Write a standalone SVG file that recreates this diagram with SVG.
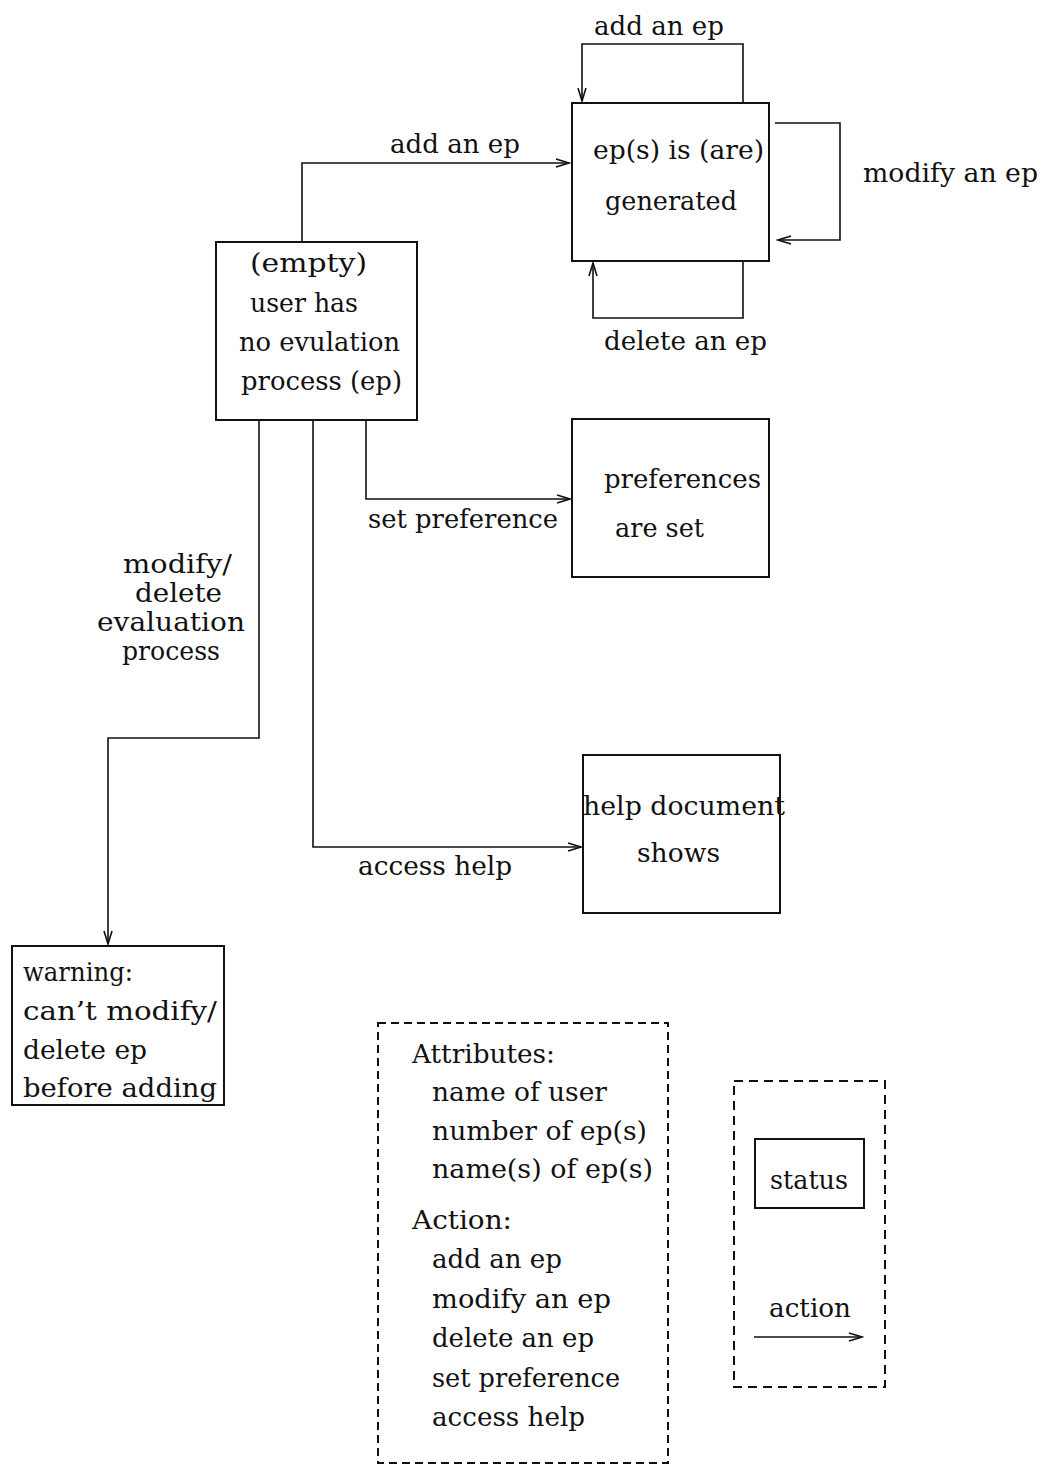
<svg xmlns="http://www.w3.org/2000/svg" width="1045" height="1467" viewBox="0 0 1045 1467">
  <style>
    text { font-family: "DejaVu Serif", "Liberation Serif", serif; font-size: 26px; fill: #111; }
    .box { fill: none; stroke: #111; stroke-width: 2; }
    .edge { fill: none; stroke: #111; stroke-width: 1.6; }
    .dash { fill: none; stroke: #111; stroke-width: 2; stroke-dasharray: 8 5; }
    .dash2 { fill: none; stroke: #111; stroke-width: 2; stroke-dasharray: 9 6; }
  </style>
  <defs>
    <marker id="arrow" markerUnits="userSpaceOnUse" markerWidth="16" markerHeight="12" refX="14" refY="6" orient="auto">
      <path d="M1,2 L14,6 L1,10" fill="none" stroke="#111" stroke-width="1.6"/>
    </marker>
  </defs>
  <rect width="1045" height="1467" fill="#fff"/>

  <!-- connectors -->
  <g id="connectors">
    <path class="edge" d="M302,242 V163 H569" marker-end="url(#arrow)"/>
    <path class="edge" d="M743,102 V44 H582 V101" marker-end="url(#arrow)"/>
    <path class="edge" d="M775,123 H840 V240 H778" marker-end="url(#arrow)"/>
    <path class="edge" d="M743,262 V318 H593 V263" marker-end="url(#arrow)"/>
    <path class="edge" d="M366,421 V499 H570" marker-end="url(#arrow)"/>
    <path class="edge" d="M313,421 V847 H581" marker-end="url(#arrow)"/>
    <path class="edge" d="M259,421 V738 H108 V944" marker-end="url(#arrow)"/>
  </g>

  <!-- connector labels -->
  <g id="labels">
    <text x="594" y="35" textLength="130" lengthAdjust="spacingAndGlyphs">add an ep</text>
    <text x="390" y="153" textLength="130" lengthAdjust="spacingAndGlyphs">add an ep</text>
    <text x="863" y="182" textLength="175" lengthAdjust="spacingAndGlyphs">modify an ep</text>
    <text x="604" y="350" textLength="163" lengthAdjust="spacingAndGlyphs">delete an ep</text>
    <text x="368" y="528" textLength="190" lengthAdjust="spacingAndGlyphs">set preference</text>
    <text x="358" y="875" textLength="154" lengthAdjust="spacingAndGlyphs">access help</text>
    <text x="123" y="573" textLength="109" lengthAdjust="spacingAndGlyphs">modify/</text>
    <text x="135" y="602" textLength="87" lengthAdjust="spacingAndGlyphs">delete</text>
    <text x="97" y="631" textLength="148" lengthAdjust="spacingAndGlyphs">evaluation</text>
    <text x="122" y="660" textLength="98" lengthAdjust="spacingAndGlyphs">process</text>
  </g>

  <!-- status nodes -->
  <g id="empty">
    <rect class="box" x="216" y="242" width="201" height="178"/>
    <text x="250" y="272" textLength="117" lengthAdjust="spacingAndGlyphs">(empty)</text>
    <text x="250" y="312" textLength="108" lengthAdjust="spacingAndGlyphs">user has</text>
    <text x="239" y="351" textLength="161" lengthAdjust="spacingAndGlyphs">no evulation</text>
    <text x="241" y="390" textLength="161" lengthAdjust="spacingAndGlyphs">process (ep)</text>
  </g>

  <g id="generated">
    <rect class="box" x="572" y="103" width="197" height="158"/>
    <text x="593" y="159" textLength="171" lengthAdjust="spacingAndGlyphs">ep(s) is (are)</text>
    <text x="605" y="210" textLength="132" lengthAdjust="spacingAndGlyphs">generated</text>
  </g>

  <g id="preferences">
    <rect class="box" x="572" y="419" width="197" height="158"/>
    <text x="604" y="488" textLength="157" lengthAdjust="spacingAndGlyphs">preferences</text>
    <text x="615" y="537" textLength="89" lengthAdjust="spacingAndGlyphs">are set</text>
  </g>

  <g id="help">
    <rect class="box" x="583" y="755" width="197" height="158"/>
    <text x="583" y="815" textLength="202" lengthAdjust="spacingAndGlyphs">help document</text>
    <text x="637" y="862" textLength="83" lengthAdjust="spacingAndGlyphs">shows</text>
  </g>

  <g id="warning">
    <rect class="box" x="12" y="946" width="212" height="159"/>
    <text x="23" y="981" textLength="110" lengthAdjust="spacingAndGlyphs">warning:</text>
    <text x="23" y="1020" textLength="194" lengthAdjust="spacingAndGlyphs">can’t modify/</text>
    <text x="23" y="1059" textLength="124" lengthAdjust="spacingAndGlyphs">delete ep</text>
    <text x="23" y="1097" textLength="194" lengthAdjust="spacingAndGlyphs">before adding</text>
  </g>

  <!-- attribute / action list -->
  <g id="attributes">
    <rect class="dash" x="378" y="1023" width="290" height="440"/>
    <text x="412" y="1063" textLength="143" lengthAdjust="spacingAndGlyphs">Attributes:</text>
    <text x="432" y="1101" textLength="175" lengthAdjust="spacingAndGlyphs">name of user</text>
    <text x="432" y="1140" textLength="215" lengthAdjust="spacingAndGlyphs">number of ep(s)</text>
    <text x="432" y="1178" textLength="221" lengthAdjust="spacingAndGlyphs">name(s) of ep(s)</text>
    <text x="412" y="1229" textLength="100" lengthAdjust="spacingAndGlyphs">Action:</text>
    <text x="432" y="1268" textLength="130" lengthAdjust="spacingAndGlyphs">add an ep</text>
    <text x="432" y="1308" textLength="179" lengthAdjust="spacingAndGlyphs">modify an ep</text>
    <text x="432" y="1347" textLength="162" lengthAdjust="spacingAndGlyphs">delete an ep</text>
    <text x="432" y="1387" textLength="188" lengthAdjust="spacingAndGlyphs">set preference</text>
    <text x="432" y="1426" textLength="153" lengthAdjust="spacingAndGlyphs">access help</text>
  </g>

  <!-- key -->
  <g id="key">
    <rect class="dash2" x="734" y="1081" width="151" height="306"/>
    <rect class="box" x="755" y="1139" width="109" height="69"/>
    <text x="770" y="1189" textLength="78" lengthAdjust="spacingAndGlyphs">status</text>
    <text x="769" y="1317" textLength="82" lengthAdjust="spacingAndGlyphs">action</text>
    <path class="edge" d="M754,1337 H862" marker-end="url(#arrow)"/>
  </g>
</svg>
